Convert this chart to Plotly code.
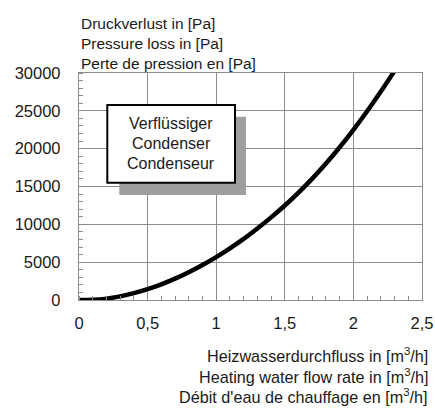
import plotly.graph_objects as go

# Heating water flow rate [m3/h]
flow = [0.0, 0.1, 0.2, 0.3, 0.4, 0.5, 0.6, 0.7, 0.8, 0.9, 1.0, 1.1, 1.2,
        1.3, 1.4, 1.5, 1.6, 1.7, 1.8, 1.9, 2.0, 2.1, 2.2, 2.3]
# Pressure loss [Pa]
pressure = [0, 30, 180, 480, 900, 1430, 2070, 2820, 3670, 4620, 5670, 6820, 8070,
            9450, 10920, 12490, 14190, 16040, 18040, 20190, 22490, 24940, 27540, 30290]

x_ticks = [0, 0.5, 1, 1.5, 2, 2.5]
x_tick_labels = ["0", "0,5", "1", "1,5", "2", "2,5"]
y_ticks = [0, 5000, 10000, 15000, 20000, 25000, 30000]
y_tick_labels = ["0", "5000", "10000", "15000", "20000", "25000", "30000"]

y_title = ["Druckverlust in [Pa]", "Pressure loss in [Pa]", "Perte de pression en [Pa]"]
x_title = ["Heizwasserdurchfluss in [m<sup>3</sup>/h]",
           "Heating water flow rate in [m<sup>3</sup>/h]",
           "Débit d'eau de chauffage en [m<sup>3</sup>/h]"]
box_text = ["Verflüssiger", "Condenser", "Condenseur"]

FONT = "Liberation Sans, Arial, sans-serif"
TXT = "#1a1a1a"
GRID = "#8c8c8c"

# plot area in pixels
L, R, T, B = 79, 422, 73, 300
W, H = R - L, B - T


def px(x):
    return (x - L) / W


def py(y):
    return (B - y) / H


fig = go.Figure()
fig.add_trace(go.Scatter(x=flow, y=pressure, mode="lines",
                         line=dict(color="black", width=4.5, shape="spline", smoothing=0.8),
                         showlegend=False, hoverinfo="skip"))

fig.update_layout(
    width=435, height=410,
    margin=dict(l=L, r=435 - R, t=T, b=410 - B),
    paper_bgcolor="white", plot_bgcolor="white",
    font=dict(family=FONT, size=16.5, color=TXT),
    xaxis=dict(range=[0, 2.5], tickvals=x_ticks, ticktext=x_tick_labels,
               automargin=False,
               showgrid=True, gridcolor=GRID, gridwidth=1.3,
               showline=True, linecolor=GRID, linewidth=1.3, mirror=True,
               ticks="", ticklabelstandoff=8, zeroline=False,
               tickfont=dict(size=16.5, color=TXT),
               minor=dict(dtick=0.1, ticks="inside", ticklen=4, tickcolor=GRID,
                          showgrid=False)),
    yaxis=dict(range=[0, 30000], tickvals=y_ticks, ticktext=y_tick_labels,
               automargin=False,
               showgrid=True, gridcolor=GRID, gridwidth=1.3,
               showline=True, linecolor=GRID, linewidth=1.3, mirror=True,
               ticks="", ticklabelstandoff=14, zeroline=False,
               tickfont=dict(size=16.5, color=TXT),
               minor=dict(dtick=1000, ticks="inside", ticklen=4, tickcolor=GRID,
                          showgrid=False)),
)

# Shadow and label box
fig.add_shape(type="rect", xref="paper", yref="paper",
              x0=px(119.3), x1=px(246), y0=py(195), y1=py(116.7),
              fillcolor="#9e9e9e", line=dict(width=0), layer="above")
fig.add_shape(type="rect", xref="paper", yref="paper",
              x0=px(107.3), x1=px(235), y0=py(182.7), y1=py(105),
              fillcolor="white", line=dict(color="black", width=2), layer="above")

for i, t in enumerate(box_text):
    fig.add_annotation(text=t, xref="paper", yref="paper", x=px(171),
                       y=py(123 + 20 * i), xanchor="center", yanchor="middle",
                       showarrow=False, font=dict(size=16, color=TXT))

for i, t in enumerate(y_title):
    fig.add_annotation(text=t, xref="paper", yref="paper", x=px(79),
                       y=py(23 + 20 * i), xanchor="left", yanchor="middle",
                       showarrow=False, font=dict(size=15.5, color=TXT))

for i, t in enumerate(x_title):
    fig.add_annotation(text=t, xref="paper", yref="paper", x=px(430),
                       y=py(355 + 20.5 * i), xanchor="right", yanchor="middle",
                       showarrow=False, font=dict(size=16.2, color=TXT))

fig.write_html("out.html", config={"displayModeBar": False},
               post_script="document.body.style.margin='0';document.body.style.overflow='hidden';")
